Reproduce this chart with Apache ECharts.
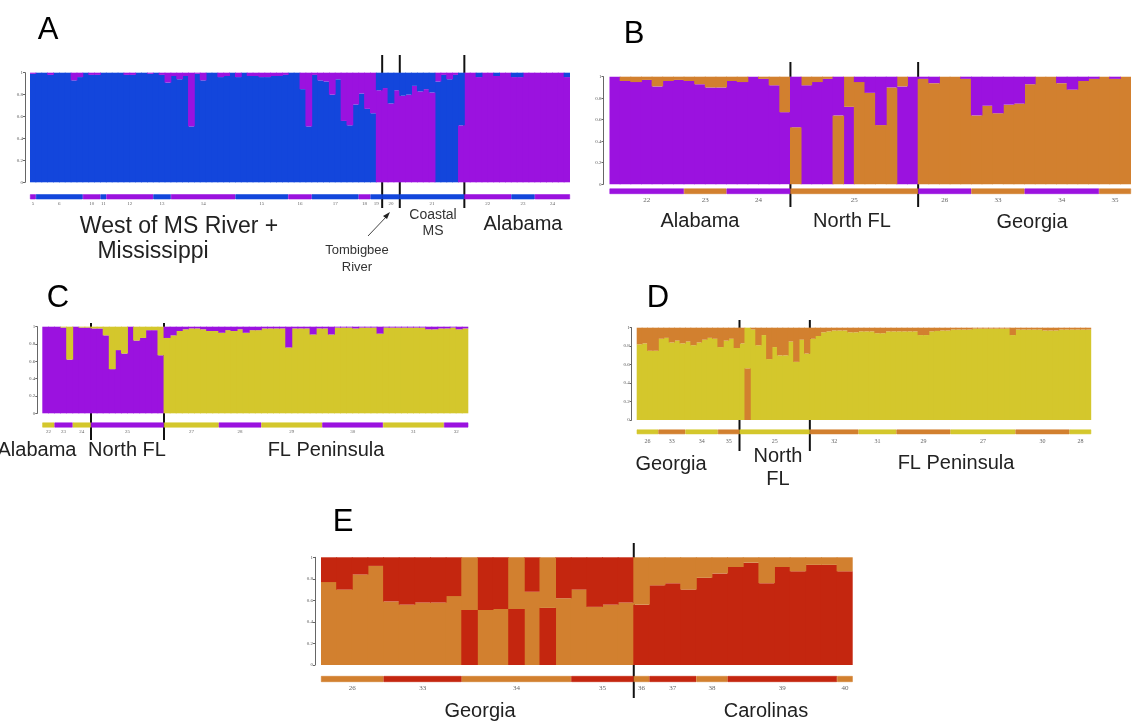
<!DOCTYPE html>
<html><head><meta charset="utf-8">
<script src="https://cdn.jsdelivr.net/npm/echarts@6/dist/echarts.min.js"></script>
<style>html,body{margin:0;padding:0;background:#fff}#c{width:1132px;height:724px}</style>
</head><body><div id="c"></div>
<script>
// ---------- colours ----------
const BLUE = '#1346dc', PURPLE = '#9b12df', ORANGE = '#d2802f', YELLOW = '#d4c72c', RED = '#c4260f';

// ---------- Panel A (purple fraction; remainder blue) ----------
const panelA_q = [0.01,0,0,0.02,0,0,0,0.07,0.04,0,
 0.02,0.02,0,0,0,0,0.02,0.02,0,0,
 0.01,0,0.02,0.09,0.03,0.06,0.03,0.49,0.01,0.07,
 0,0,0.04,0.03,0,0.04,0,0.03,0.03,0.04,
 0.04,0.03,0.03,0.02,0,0,0.15,0.49,0.02,0.07,
 0.08,0.2,0.06,0.44,0.48,0.29,0.19,0.33,0.37,0.84,
 0.86,0.72,0.84,0.79,0.8,0.88,0.83,0.85,0.82,0.08,
 0.02,0.06,0.02,0.52,1,1,0.96,1,1,0.97,
 1,1,0.96,0.96,1,1,1,1,1,1,
 1,0.96];
const panelA_pops = ['5','6','10','11','12','13','14','15','16','17','18','19','20','21','22','23','24'];
const panelA_counts = [1,8,3,1,8,3,11,9,4,8,2,2,3,11,8,4,6];
const panelA_popColors = [PURPLE,BLUE,PURPLE,BLUE,PURPLE,BLUE,PURPLE,BLUE,PURPLE,BLUE,PURPLE,BLUE,BLUE,BLUE,PURPLE,BLUE,PURPLE];
const panelA_regionPops = [12,1,1,3];

// ---------- Panel B (orange fraction; remainder purple) ----------
const panelB_q = [0,0.04,0.05,0.03,0.09,0.04,0.03,0.04,0.07,0.1,0.1,0.04,0.05,0,0.02,0.08,0.33,
 0.53,0.08,0.05,0.02,0.64,0.28,0.95,0.85,0.55,0.9,0.09,0,
 0.98,0.94,1,1,0.98,0.64,0.73,0.66,0.74,0.75,0.93,1,1,0.94,0.88,0.96,0.98,1,0.98,1];
const panelB_pops = ['22','23','24','25','26','33','34','35'];
const panelB_counts = [7,4,6,12,5,5,7,3];
const panelB_popColors = [PURPLE,ORANGE,PURPLE,ORANGE,PURPLE,ORANGE,PURPLE,ORANGE];
const panelB_regionPops = [3,1,4];

// ---------- Panel C (yellow fraction; remainder purple) ----------
const panelC_q = [0,0,0,0.01,0.38,0,0.01,0.01,
 0.02,0.02,0.1,0.49,0.27,0.31,0,0.16,0.13,0.04,0.04,0.33,
 0.87,0.9,0.95,0.97,0.98,0.98,0.97,0.95,0.95,0.93,
 0.96,0.95,0.97,0.93,0.96,0.96,0.98,0.98,0.98,0.98,
 0.76,0.98,0.98,0.98,0.91,0.98,0.98,0.91,0.99,0.99,
 0.99,0.98,0.99,0.99,0.99,0.92,0.99,0.99,0.99,0.99,
 0.99,0.99,0.99,0.97,0.97,0.98,0.98,0.99,0.97,0.98];
const panelC_pops = ['22','23','24','25','27','28','29','30','31','32'];
const panelC_counts = [2,3,3,12,9,7,10,10,10,4];
const panelC_popColors = [YELLOW,PURPLE,YELLOW,PURPLE,YELLOW,PURPLE,YELLOW,PURPLE,YELLOW,PURPLE];
const panelC_regionPops = [3,1,6];

// ---------- Panel D (orange fraction; remainder yellow) ----------
const panelD_q = [0.18,0.17,0.25,0.25,0.12,0.11,0.16,0.14,0.17,0.15,0.19,0.16,0.13,0.11,0.12,0.21,0.14,0.12,0.22,
 0.17,0.56,0.02,0.19,0.08,0.34,0.21,0.3,0.3,0.15,0.37,0.13,0.28,
 0.12,0.09,0.05,0.04,0.03,0.03,0.03,0.05,0.05,0.04,
 0.04,0.04,0.06,0.06,0.04,0.04,0.04,0.04,0.04,0.04,
 0.08,0.08,0.04,0.035,0.03,0.03,0.02,0.02,0.02,0.02,
 0.01,0.01,0.01,0.01,0.01,0.01,0.01,0.08,0.02,0.02,
 0.02,0.02,0.02,0.03,0.03,0.03,0.02,0.02,0.02,0.02,
 0.02,0.02];
const panelD_pops = ['26','33','34','35','25','32','31','29','27','30','28'];
const panelD_counts = [4,5,6,4,13,9,7,10,12,10,4];
const panelD_popColors = [YELLOW,ORANGE,YELLOW,ORANGE,YELLOW,ORANGE,YELLOW,ORANGE,YELLOW,ORANGE,YELLOW];
const panelD_regionPops = [4,1,6];

// ---------- Panel E (red fraction; remainder orange) ----------
const panelE_q = [0.23,0.3,0.16,0.08,0.41,0.44,0.42,0.42,0.36,0.51,0.49,0.48,0.52,0.32,0.53,0.38,0.3,0.46,0.44,0.42,
 0.56,0.74,0.76,0.7,0.81,0.85,0.91,0.95,0.76,0.91,0.87,0.93,0.93,0.87];
const panelE_pops = ['26','33','34','35','36','37','38','39','40'];
const panelE_counts = [4,5,7,4,1,3,2,7,1];
const panelE_popColors = [ORANGE,RED,ORANGE,RED,ORANGE,RED,ORANGE,RED,ORANGE];
const panelE_regionPops = [4,5];

// ---------- layout ----------
const panels = [
  {q:panelA_q,pops:panelA_pops,counts:panelA_counts,popCols:panelA_popColors,regions:panelA_regionPops,cA:BLUE,cB:PURPLE,
   grid:{left:30,top:72.7,width:540,height:109.6},bar:{top:194.3,height:5},off:5,popFont:5,popDist:2,lineY:[55,208]},
  {q:panelB_q,pops:panelB_pops,counts:panelB_counts,popCols:panelB_popColors,regions:panelB_regionPops,cA:PURPLE,cB:ORANGE,
   grid:{left:609.5,top:76.7,width:521.5,height:107.5},bar:{top:188.5,height:5.5},off:6,popFont:7,popDist:3,lineY:[62,207]},
  {q:panelC_q,pops:panelC_pops,counts:panelC_counts,popCols:panelC_popColors,regions:panelC_regionPops,cA:PURPLE,cB:YELLOW,
   grid:{left:42.3,top:326.7,width:426,height:86.6},bar:{top:422.5,height:5},off:5,popFont:5,popDist:2,lineY:[323,440]},
  {q:panelD_q,pops:panelD_pops,counts:panelD_counts,popCols:panelD_popColors,regions:panelD_regionPops,cA:YELLOW,cB:ORANGE,
   grid:{left:636.7,top:327.7,width:454.5,height:92.3},bar:{top:429.5,height:4.7},off:5,popFont:6,popDist:4.5,lineY:[320,451]},
  {q:panelE_q,pops:panelE_pops,counts:panelE_counts,popCols:panelE_popColors,regions:panelE_regionPops,cA:ORANGE,cB:RED,
   grid:{left:321,top:557.3,width:531.7,height:107.7},bar:{top:676,height:6},off:6,popFont:7,popDist:3,lineY:[543,698]}
];

const grids=[], xAxes=[], yAxes=[], series=[];
panels.forEach((p,i)=>{
  const gS = grids.length;
  grids.push({left:p.grid.left,top:p.grid.top,width:p.grid.width,height:p.grid.height});
  grids.push({left:p.grid.left,top:p.bar.top,width:p.grid.width,height:p.bar.height});
  const N = p.q.length;
  const bw = p.grid.width / N + 0.9;   // slight overlap to hide seams
  xAxes.push({type:'category',gridIndex:gS,data:p.q.map((_,k)=>String(k)),show:false,boundaryGap:true});
  yAxes.push({type:'value',gridIndex:gS,min:0,max:1,interval:0.2,offset:p.off,
    axisLine:{show:true,lineStyle:{color:'#666',width:1}},
    axisTick:{show:true,length:2,lineStyle:{color:'#666',width:1}},
    axisLabel:{show:true,fontSize:5,color:'#555',margin:2,fontFamily:'Liberation Serif',
      formatter:v=>(Math.round(v*10)/10).toString()},
    splitLine:{show:false}});
  xAxes.push({type:'value',gridIndex:gS+1,min:0,max:N,show:false});
  yAxes.push({type:'category',gridIndex:gS+1,data:[''],show:false});
  // dominant component drawn at the bottom
  const aBot = p.q.map(v=> v<=0.5 ? +(1-v).toFixed(3) : 0);
  const bBot = p.q.map(v=> v>0.5 ? v : 0);
  const bTop = p.q.map(v=> v<=0.5 ? v : 0);
  const aTop = p.q.map(v=> v>0.5 ? +(1-v).toFixed(3) : 0);
  [[aBot,p.cA],[bBot,p.cB],[bTop,p.cB],[aTop,p.cA]].forEach(([d,c])=>{
    series.push({type:'bar',xAxisIndex:gS,yAxisIndex:gS,stack:'s'+i,data:d,barWidth:bw,
      itemStyle:{color:c},silent:true,animation:false});
  });
  p.pops.forEach((name,j)=>{
    series.push({type:'bar',xAxisIndex:gS+1,yAxisIndex:gS+1,stack:'p'+i,data:[p.counts[j]],barWidth:'100%',
      itemStyle:{color:p.popCols[j],borderColor:p.popCols[j],borderWidth:0.6},silent:true,animation:false,
      label:{show:true,position:'bottom',distance:p.popDist,formatter:name,fontSize:p.popFont,color:'#666',fontFamily:'Liberation Serif'}});
  });
});

const chart = echarts.init(document.getElementById('c'));
chart.setOption({animation:false,backgroundColor:'#fff',grid:grids,xAxis:xAxes,yAxis:yAxes,series:series});

// ---------- annotations ----------
const FONT = '"Liberation Sans", Arial, sans-serif';
function txt(t,x,y,size,color){
  return {type:'text',silent:true,style:{text:t,x:x,y:y,font:size+'px '+FONT,fill:color||'#222',
    textAlign:'center',textVerticalAlign:'middle',align:'center',verticalAlign:'middle'}};
}
const gfx = [
  txt('A',48,30,31,'#000'), txt('B',634,34,31,'#000'), txt('C',58,298,31,'#000'),
  txt('D',658,298,31,'#000'), txt('E',343,522,31,'#000'),
  txt('West of MS River +',179,227,23), txt('Mississippi',153,252,23),
  txt('Tombigbee',357,250,13,'#333'), txt('River',357,267,13,'#333'),
  txt('Coastal',433,215,14,'#333'), txt('MS',433,231,14,'#333'),
  txt('Alabama',523,224,20),
  txt('Alabama',700,221,20), txt('North FL',852,221,20), txt('Georgia',1032,222,20),
  txt('Alabama',37,450,20), txt('North FL',127,450,20), txt('FL Peninsula',326,450,20),
  txt('Georgia',671,464,20), txt('North',778,456,20), txt('FL',778,479,20), txt('FL Peninsula',956,463,20),
  txt('Georgia',480,711,20), txt('Carolinas',766,711,20),
  {type:'line',silent:true,shape:{x1:368,y1:236,x2:387,y2:216},style:{stroke:'#444',lineWidth:1}},
  {type:'polygon',silent:true,shape:{points:[[390,212],[383,216],[387,219]]},style:{fill:'#222'}}
];
panels.forEach((p,i)=>{
  const gS = i*2;
  let cum = 0, popIdx = 0;
  for(let r=0;r<p.regions.length-1;r++){
    for(let k=0;k<p.regions[r];k++){ cum += p.counts[popIdx++]; }
    const a = chart.convertToPixel({xAxisIndex:gS}, cum-1);
    const b = chart.convertToPixel({xAxisIndex:gS}, cum);
    const x = (a+b)/2;
    gfx.push({type:'line',silent:true,shape:{x1:x,y1:p.lineY[0],x2:x,y2:p.lineY[1]},style:{stroke:'#111',lineWidth:2}});
  }
});
chart.setOption({graphic:{elements:gfx}});
</script></body></html>
